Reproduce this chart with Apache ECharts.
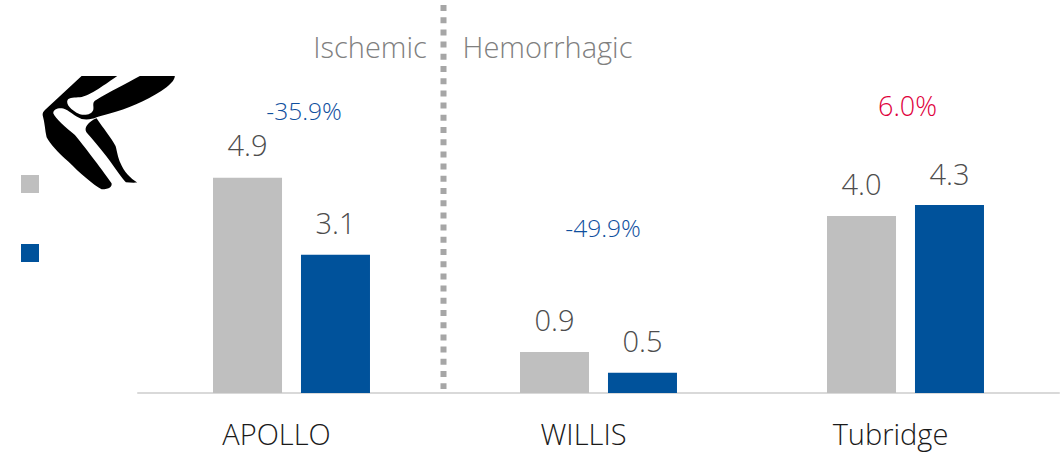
<!DOCTYPE html>
<html><head><meta charset="utf-8">
<style>html,body{margin:0;padding:0;background:#fff}#c{width:1064px;height:454px}</style>
<script src="https://cdn.jsdelivr.net/npm/echarts@6/dist/echarts.min.js"></script>
</head><body><div id="c"></div>
<script>
const categories = ['APOLLO', 'WILLIS', 'Tubridge'];
const controlValues = [4.89, 0.93, 4.02];
const treatedValues = [3.14, 0.46, 4.27];
const changeLabels = ['-35.9%', '-49.9%', '6.0%'];
const FONT = 'Open Sans';
const chart = echarts.init(document.getElementById('c'), null, {renderer: 'svg'});
const femur = 'M245 48L352 48C320 70 270 108 240 112C225 113 208 112 203 120C197 132 212 150 240 163C258 168 276 162 280 150C283 140 276 130 285 122C330 95 380 70 420 48L525 48C525 58 515 70 500 82C460 112 400 140 350 155C325 163 305 168 290 172C278 178 260 180 245 177C225 170 205 150 190 146C175 143 160 148 160 160C165 175 200 205 225 225C250 255 300 320 335 370C337 380 330 388 305 388C280 375 240 340 205 305C175 280 150 250 140 232C135 210 135 190 128 165C128 158 130 155 135 150Z';
const fibula = 'M290 175C310 205 335 235 347 258C352 275 353 290 362 310C372 335 392 355 412 368C400 369 388 368 378 367C368 358 350 330 320 290C300 265 280 240 262 220C255 212 256 202 262 195C268 187 278 180 290 175Z';
echarts.graphic.registerShape('kneeFemur', echarts.graphic.extendPath(femur));
echarts.graphic.registerShape('kneeFibula', echarts.graphic.extendPath(fibula));
const pctColors = ['#0f4f9e', '#0f4f9e', '#e0003c'];
const pctPos = [[304, 110], [603, 227], [907.5, 105]];
const pctSize = [24.5, 24.5, 27];
const controlLabelGap = [19, 18, 18];
const treatedLabelGap = [18, 18, 17];
function txt(x, y, text, fill, size) {
  return {type: 'text', x, y, silent: true, z: 10, style: {text, fill, font: `300 ${size}px "${FONT}"`, align: 'center', verticalAlign: 'middle'}};
}
const barLabel = {show: true, position: 'top', fontFamily: FONT, fontWeight: 300, fontSize: 29, color: '#4d4d4d', formatter: p => p.value.toFixed(1)};
chart.setOption({
  animation: false,
  backgroundColor: '#fff',
  grid: {left: 138, right: 5, top: 41, height: 352, containLabel: false},
  legend: {
    left: 21, top: 175, padding: 0, orient: 'vertical', itemWidth: 18, itemHeight: 18, itemGap: 51,
    icon: 'rect', formatter: () => '', selectedMode: false, textStyle: {fontSize: 1}
  },
  xAxis: {
    type: 'category', data: categories,
    axisLine: {lineStyle: {color: '#d9d9d9', width: 2}}, axisTick: {show: false},
    axisLabel: {margin: 24, padding: [0, 30, 0, 0], fontFamily: FONT, fontWeight: 300, fontSize: 29, color: '#1a1a1a', interval: 0, lineHeight: 32}
  },
  yAxis: {type: 'value', min: 0, max: 8, show: false, splitLine: {show: false}},
  series: [
    {name: 'Control', type: 'bar', data: controlValues.map((v, i) => ({value: v, label: {distance: controlLabelGap[i]}})), barWidth: 69, barGap: '27.5%',
     itemStyle: {color: '#bfbfbf'}, label: barLabel},
    {name: 'Treated', type: 'bar', data: treatedValues.map((v, i) => ({value: v, label: {distance: treatedLabelGap[i]}})), barWidth: 69,
     itemStyle: {color: '#00529b'}, label: barLabel}
  ],
  graphic: [
    {type: 'kneeFemur', x: 0, y: 60, scaleX: 1/3, scaleY: 1/3, silent: true, style: {fill: '#000'}},
    {type: 'kneeFibula', x: 0, y: 60, scaleX: 1/3, scaleY: 1/3, silent: true, style: {fill: '#000'}},
    {type: 'line', silent: true, shape: {x1: 443.5, y1: 5, x2: 443.5, y2: 389}, style: {stroke: '#a6a6a6', lineWidth: 6, lineDash: [6, 6.2]}},
    txt(370, 46, 'Ischemic', '#808080', 29),
    txt(547.5, 46, 'Hemorrhagic', '#808080', 29),
    ...changeLabels.map((t, i) => txt(pctPos[i][0], pctPos[i][1], t, pctColors[i], pctSize[i]))
  ]
});
</script></body></html>
